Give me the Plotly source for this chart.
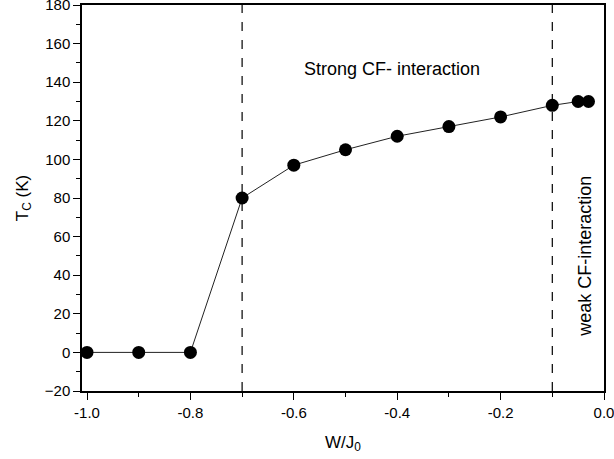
import plotly.graph_objects as go

x_vals = [-1.0, -0.9, -0.8, -0.7, -0.6, -0.5, -0.4, -0.3, -0.2, -0.1, -0.05, -0.03]
tc_vals = [0, 0, 0, 80, 97, 105, 112, 117, 122, 128, 130, 130]
boundaries = [-0.7, -0.1]
x_ticks = [-1.0, -0.8, -0.6, -0.4, -0.2, 0.0]
x_tick_labels = ["-1.0", "-0.8", "-0.6", "-0.4", "-0.2", "0.0"]
y_ticks = [-20, 0, 20, 40, 60, 80, 100, 120, 140, 160, 180]

FONT = "Liberation Sans, Arial, sans-serif"

fig = go.Figure()
fig.add_trace(go.Scatter(
    x=x_vals, y=tc_vals, mode="lines+markers",
    line=dict(color="#222222", width=1),
    marker=dict(color="black", size=13),
    showlegend=False,
))

for b in boundaries:
    fig.add_shape(type="line", xref="x", yref="paper", x0=b, x1=b, y0=0, y1=1,
                  line=dict(color="black", width=1.2, dash="dash"))

fig.add_annotation(x=-0.41, y=147, xref="x", yref="y", text="Strong CF- interaction",
                   showarrow=False, font=dict(family=FONT, size=18, color="black"))
fig.add_annotation(x=-0.037, y=50, xref="x", yref="y", text="weak CF-interaction",
                   showarrow=False, textangle=-90, font=dict(family=FONT, size=18, color="black"))

fig.update_layout(
    width=614, height=459,
    margin=dict(l=82, r=10, t=5, b=68),
    paper_bgcolor="white", plot_bgcolor="white",
    font=dict(family=FONT, size=15, color="black"),
)
fig.update_xaxes(
    range=[-1.0097, 0.0], tickvals=x_ticks, ticktext=x_tick_labels,
    showline=True, linecolor="black", linewidth=1.5, mirror=True,
    ticks="outside", ticklen=7, tickwidth=1.2, tickcolor="black",
    minor=dict(ticks="outside", dtick=0.1, tick0=-1.0, ticklen=4, tickwidth=1.2, tickcolor="black"),
    showgrid=False, zeroline=False, ticklabeloverflow="allow", automargin=False,
    tickfont=dict(family=FONT, size=15, color="black"),
    title=dict(text="W/J<sub>0</sub>", font=dict(family=FONT, size=17, color="black"), standoff=16),
)
fig.update_yaxes(
    range=[-20, 180], tickvals=y_ticks,
    showline=True, linecolor="black", linewidth=1.5, mirror=True,
    ticks="outside", ticklen=7, tickwidth=1.2, tickcolor="black",
    minor=dict(ticks="outside", dtick=10, tick0=-20, ticklen=4, tickwidth=1.2, tickcolor="black"),
    showgrid=False, zeroline=False, ticklabeloverflow="allow", automargin=False,
    tickfont=dict(family=FONT, size=15, color="black"),
    title=dict(text="T<sub>C</sub> (K)", font=dict(family=FONT, size=17, color="black"), standoff=12),
)

fig.write_html("out.html")
